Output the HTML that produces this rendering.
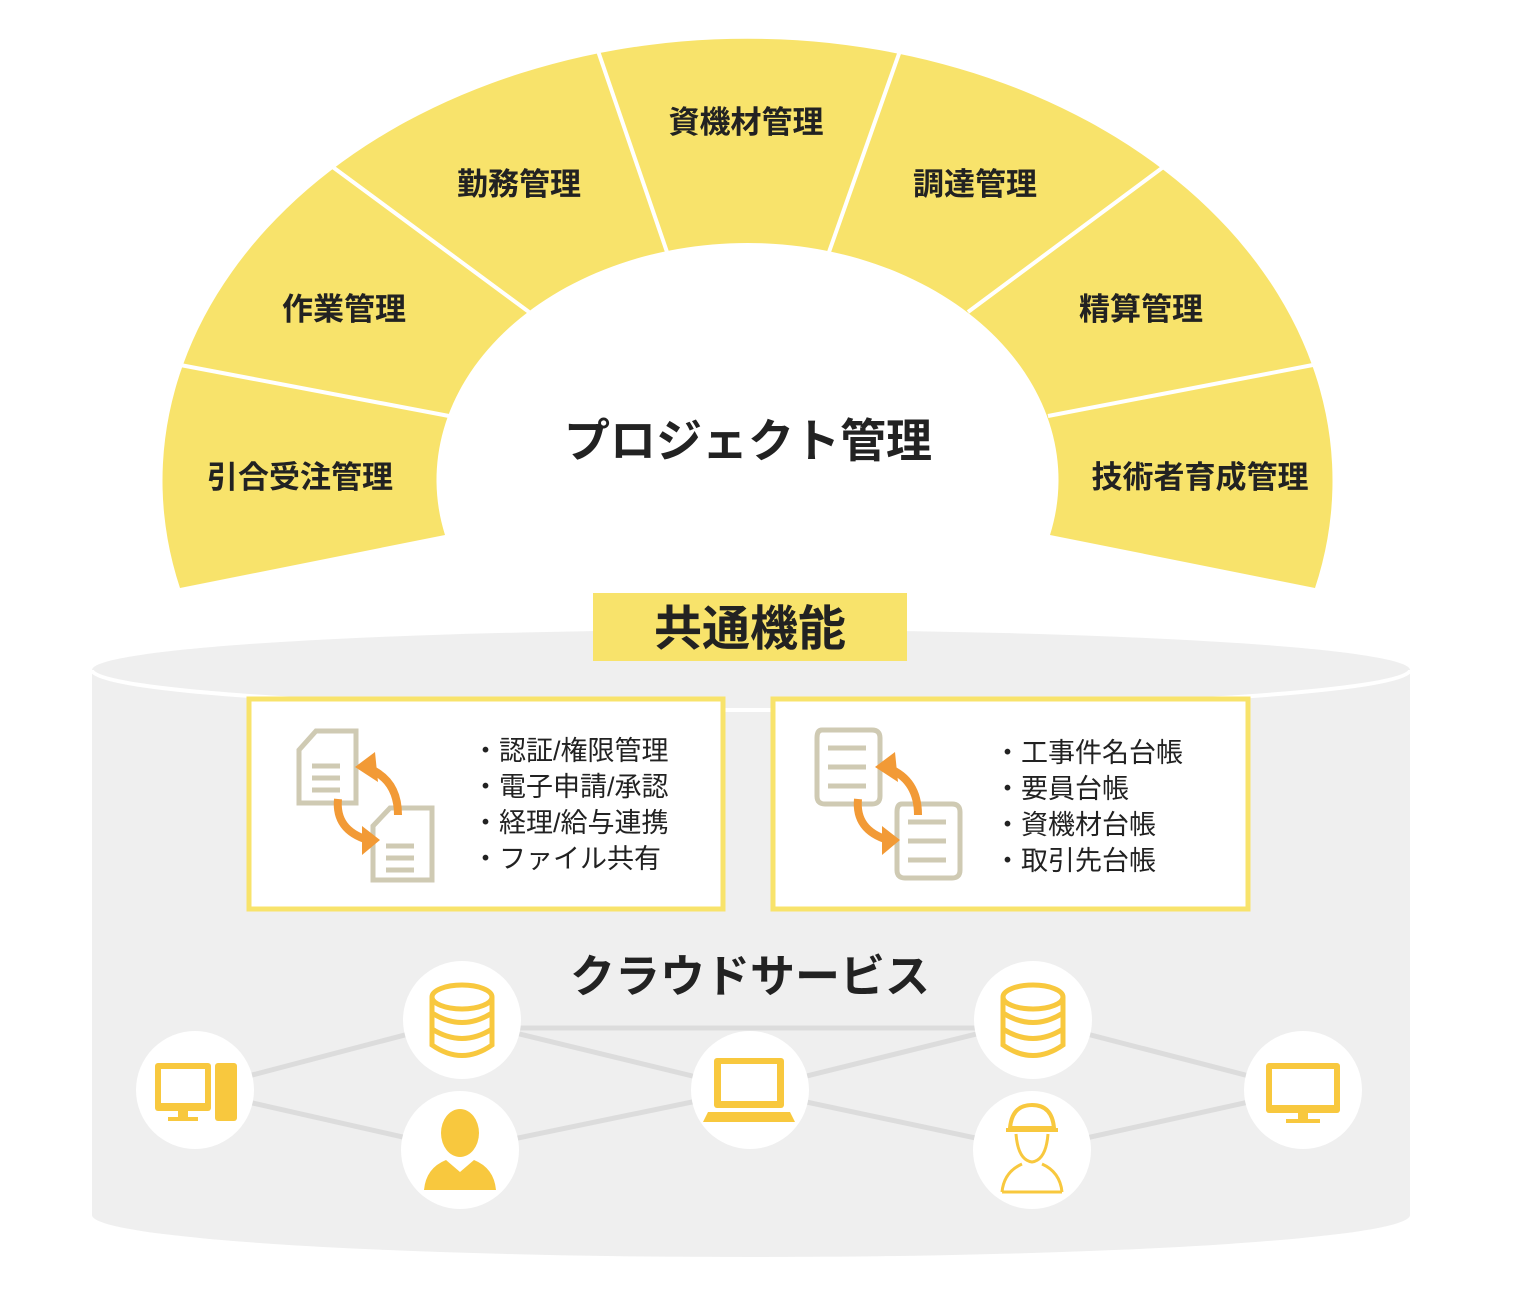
<!DOCTYPE html>
<html><head><meta charset="utf-8"><style>
html,body{margin:0;padding:0;background:#fff;}
body{width:1527px;height:1284px;overflow:hidden;font-family:"Liberation Sans","Noto Sans CJK JP",sans-serif;}
</style></head><body>
<svg width="1527" height="1284" viewBox="0 0 1527 1284" xmlns="http://www.w3.org/2000/svg" font-family="Liberation Sans, Noto Sans CJK JP, sans-serif">
<path d="M92 670 L92 1215 A659 42 0 0 0 1410 1215 L1410 670 Z" fill="#efefef"/>
<ellipse cx="751" cy="670" rx="659" ry="40" fill="#efefef"/>
<path d="M92 670 A659 40 0 0 0 1410 670" fill="none" stroke="#fff" stroke-width="4"/>
<path d="M180 588 A585 442 0 1 1 1315 588 L1050 535 A311 237 0 1 0 445 535 Z" fill="#f8e36b"/>
<g stroke="#fff" stroke-width="4">
<line x1="175" y1="364" x2="449" y2="416"/>
<line x1="330" y1="165" x2="529" y2="312"/>
<line x1="597" y1="48" x2="667" y2="252"/>
<line x1="901" y1="48" x2="829" y2="252"/>
<line x1="1166" y1="165" x2="968" y2="312"/>
<line x1="1318" y1="364" x2="1048" y2="416"/>
</g>
<g font-size="31" font-weight="bold" fill="#222" text-anchor="middle">
<text x="300" y="488">引合受注管理</text>
<text x="344" y="320">作業管理</text>
<text x="519" y="195">勤務管理</text>
<text x="746" y="133">資機材管理</text>
<text x="975" y="195">調達管理</text>
<text x="1141" y="320">精算管理</text>
<text x="1200" y="488">技術者育成管理</text>
<text x="748" y="457" font-size="46">プロジェクト管理</text>
</g>
<rect x="593" y="593" width="314" height="68" fill="#f8e36b"/>
<text x="750" y="645" font-size="48" font-weight="bold" fill="#222" text-anchor="middle">共通機能</text>
<rect x="249" y="699" width="474" height="210" fill="#fff" stroke="#f8e36b" stroke-width="5"/>
<rect x="773" y="699" width="475" height="210" fill="#fff" stroke="#f8e36b" stroke-width="5"/>
<g font-size="27" fill="#222">
<text x="472" y="760">・認証/権限管理</text>
<text x="472" y="796">・電子申請/承認</text>
<text x="472" y="832">・経理/給与連携</text>
<text x="472" y="868">・ファイル共有</text>
<text x="994" y="762">・工事件名台帳</text>
<text x="994" y="798">・要員台帳</text>
<text x="994" y="834">・資機材台帳</text>
<text x="994" y="870">・取引先台帳</text>
</g>
<g fill="none" stroke="#cfcab3" stroke-width="5">
<path d="M299 750 L316 731 L356 731 L356 803 L299 803 Z"/>
<path d="M312 766 H340 M312 778 H340 M312 790 H340"/>
<path d="M373 826 L390 808 L432 808 L432 880 L373 880 Z"/>
<path d="M386 846 H414 M386 858 H414 M386 870 H414"/>
<path d="M822 730 H872 Q880 730 880 738 V796 Q880 804 872 804 H825 Q817 804 817 796 V738 Q817 730 822 730 Z"/>
<path d="M828 748 H866 M828 767 H866 M828 786 H866"/>
<path d="M902 804 H952 Q960 804 960 812 V870 Q960 878 952 878 H905 Q897 878 897 870 V812 Q897 804 902 804 Z"/>
<path d="M908 822 H946 M908 841 H946 M908 860 H946"/>
</g>
<g fill="none" stroke="#f29a36" stroke-width="8">
<path d="M368 768 Q398 780 398 815"/>
<path d="M338 799 Q335 830 368 840"/>
<path d="M888 768 Q918 780 918 815"/>
<path d="M858 799 Q855 830 888 840"/>
</g>
<g fill="#f29a36">
<polygon points="355,767 375,752 378,782"/>
<polygon points="380,840 362,826 362,855"/>
<polygon points="875,767 895,752 898,782"/>
<polygon points="900,840 882,826 882,855"/>
</g>
<text x="750" y="992" font-size="45" font-weight="bold" fill="#222" text-anchor="middle">クラウドサービス</text>
<g stroke="#dcdcdc" stroke-width="5">
<line x1="195" y1="1090" x2="462" y2="1020"/><line x1="195" y1="1090" x2="460" y2="1150"/>
<line x1="462" y1="1028" x2="1033" y2="1028"/>
<line x1="462" y1="1020" x2="750" y2="1090"/><line x1="460" y1="1150" x2="750" y2="1090"/>
<line x1="750" y1="1090" x2="1033" y2="1020"/><line x1="750" y1="1090" x2="1032" y2="1150"/>
<line x1="1033" y1="1020" x2="1303" y2="1090"/><line x1="1032" y1="1150" x2="1303" y2="1090"/>
</g>
<g fill="#fff">
<circle cx="195" cy="1090" r="59"/><circle cx="462" cy="1020" r="59"/><circle cx="460" cy="1150" r="59"/>
<circle cx="750" cy="1090" r="59"/><circle cx="1033" cy="1020" r="59"/><circle cx="1032" cy="1150" r="59"/>
<circle cx="1303" cy="1090" r="59"/>
</g>
<g fill="#f8c83e">
<rect x="155" y="1063" width="56" height="48" rx="3"/><rect x="161" y="1069" width="44" height="34" fill="#fff"/>
<rect x="178" y="1111" width="10" height="8"/><rect x="168" y="1117" width="30" height="4"/>
<rect x="215" y="1063" width="22" height="58" rx="3"/>
<rect x="714" y="1058" width="70" height="50" rx="3"/><rect x="721" y="1064" width="56" height="37" fill="#fff"/>
<path d="M708 1112 H790 L795 1122 H703 Z"/>
<rect x="1266" y="1063" width="74" height="50" rx="3"/><rect x="1272" y="1069" width="62" height="36" fill="#fff"/>
<rect x="1298" y="1113" width="10" height="8"/><rect x="1286" y="1119" width="34" height="4"/>
<ellipse cx="460" cy="1133" rx="19" ry="24"/>
<path d="M424 1190 Q426 1168 446 1160 L460 1172 L474 1160 Q494 1168 496 1190 Z"/>
</g>
<g fill="none" stroke="#f8c83e" stroke-width="5">
<ellipse cx="462" cy="997" rx="30" ry="12"/>
<path d="M432 997 V1045 Q462 1066 492 1045 V997 M432 1013 Q462 1032 492 1013 M432 1029 Q462 1048 492 1029"/>
<ellipse cx="1033" cy="997" rx="30" ry="12"/>
<path d="M1003 997 V1045 Q1033 1066 1063 1045 V997 M1003 1013 Q1033 1032 1063 1013 M1003 1029 Q1033 1048 1063 1029"/>
<path d="M1010 1128 Q1012 1105 1032 1105 Q1052 1105 1054 1128 Z M1006 1130 H1058" stroke-width="4"/>
<path d="M1016 1134 Q1018 1160 1032 1162 Q1046 1160 1048 1134 M1002 1192 Q1004 1172 1022 1164 M1062 1192 Q1060 1172 1042 1164 M1002 1192 H1062" stroke-width="3"/>
</g>
</svg>
</body></html>
